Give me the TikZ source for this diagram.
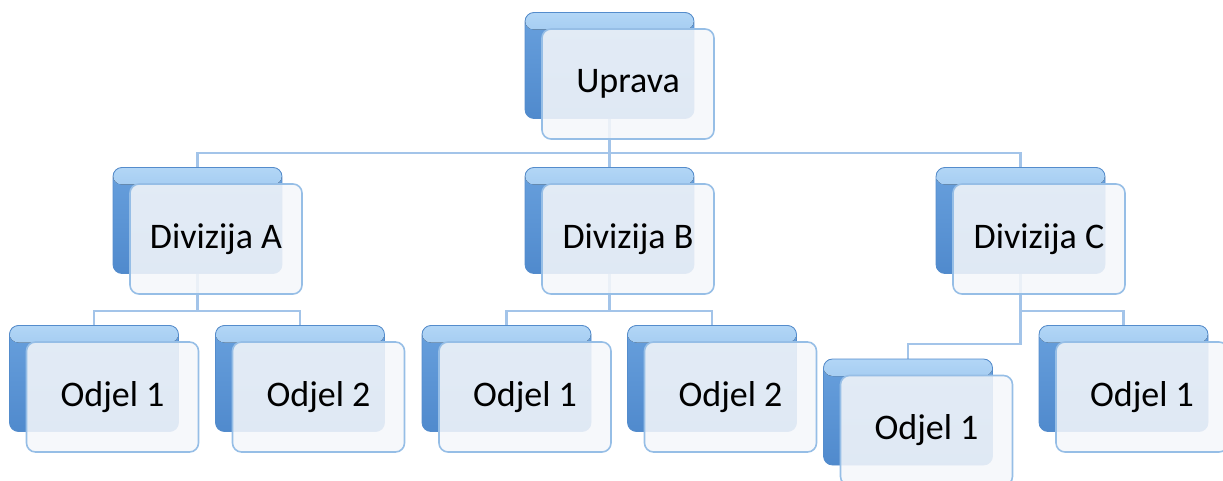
\documentclass[tikz,border=0pt]{standalone}
\usepackage{fontspec}
\setmainfont{Carlito}
\usetikzlibrary{backgrounds}

\definecolor{boxhi}{RGB}{178,214,246}
\definecolor{boxmid}{RGB}{104,160,221}
\definecolor{boxlow}{RGB}{80,138,205}
\definecolor{boxedge}{RGB}{84,140,204}
\definecolor{facefill}{RGB}{245,247,250}
\definecolor{faceedge}{RGB}{150,190,230}
\definecolor{linkcol}{RGB}{163,196,233}

\tikzstyle{unitback} = [rectangle, rounded corners=9pt, minimum width=169pt, minimum height=106pt, inner sep=0pt, draw=boxedge, line width=0.8pt, top color=boxmid, bottom color=boxlow,
    path picture={\fill[top color=boxhi, bottom color=boxmid] (path picture bounding box.north west) rectangle ([yshift=-17pt]path picture bounding box.north east);}]
\tikzstyle{unit} = [rectangle, rounded corners=9pt, minimum width=172pt, minimum height=110pt, inner sep=0pt, draw=faceedge, line width=1.6pt, fill=facefill, fill opacity=0.87, text opacity=1, font=\fontsize{36}{40}\selectfont]
\tikzstyle{link} = [draw=linkcol, line width=2.6pt]

\begin{document}
\begin{tikzpicture}[x=1pt, y=-1pt]
\useasboundingbox (0,0) rectangle (1223,481);

% top
\node[unitback] (upb) at (609.5,65.5) {};
\node[unit] (up) at ([shift={(18.5,18.5)}]upb) {Uprava};

% divisions
\node[unitback] (dab) at (197.5,220.5) {};
\node[unit] (da) at ([shift={(18.5,18.5)}]dab) {Divizija A};
\node[unitback] (dbb) at (609.5,220.5) {};
\node[unit] (db) at ([shift={(18.5,18.5)}]dbb) {Divizija B};
\node[unitback] (dcb) at (1020.5,220.5) {};
\node[unit] (dc) at ([shift={(18.5,18.5)}]dcb) {Divizija C};

% departments
\node[unitback] (a1b) at (94,378.5) {};
\node[unit] (a1) at ([shift={(18.5,18.5)}]a1b) {Odjel 1};
\node[unitback] (a2b) at (300,378.5) {};
\node[unit] (a2) at ([shift={(18.5,18.5)}]a2b) {Odjel 2};
\node[unitback] (b1b) at (506.5,378.5) {};
\node[unit] (b1) at ([shift={(18.5,18.5)}]b1b) {Odjel 1};
\node[unitback] (b2b) at (712,378.5) {};
\node[unit] (b2) at ([shift={(18.5,18.5)}]b2b) {Odjel 2};
\node[unitback] (c1b) at (908,412) {};
\node[unit] (c1) at ([shift={(18.5,18.5)}]c1b) {Odjel 1};
\node[unitback] (c2b) at (1123.5,378.5) {};
\node[unit] (c2) at ([shift={(18.5,18.5)}]c2b) {Odjel 1};

\begin{scope}[on background layer]
  \draw[link] (upb.south) -- ++(0,34) coordinate (upj);
  \draw[link] (dab.north) |- (upj) -| (dcb.north);
  \draw[link] (upj) -- (dbb.north);

  \draw[link] (dab.south) -- ++(0,37) coordinate (daj);
  \draw[link] (a1b.north) |- (daj) -| (a2b.north);

  \draw[link] (dbb.south) -- ++(0,37) coordinate (dbj);
  \draw[link] (b1b.north) |- (dbj) -| (b2b.north);

  \draw[link] (dcb.south) -- ++(0,70) -| (c1b.north);
  \draw[link] (dcb.south) ++(0,37) -| (c2b.north);
\end{scope}
\end{tikzpicture}
\end{document}
